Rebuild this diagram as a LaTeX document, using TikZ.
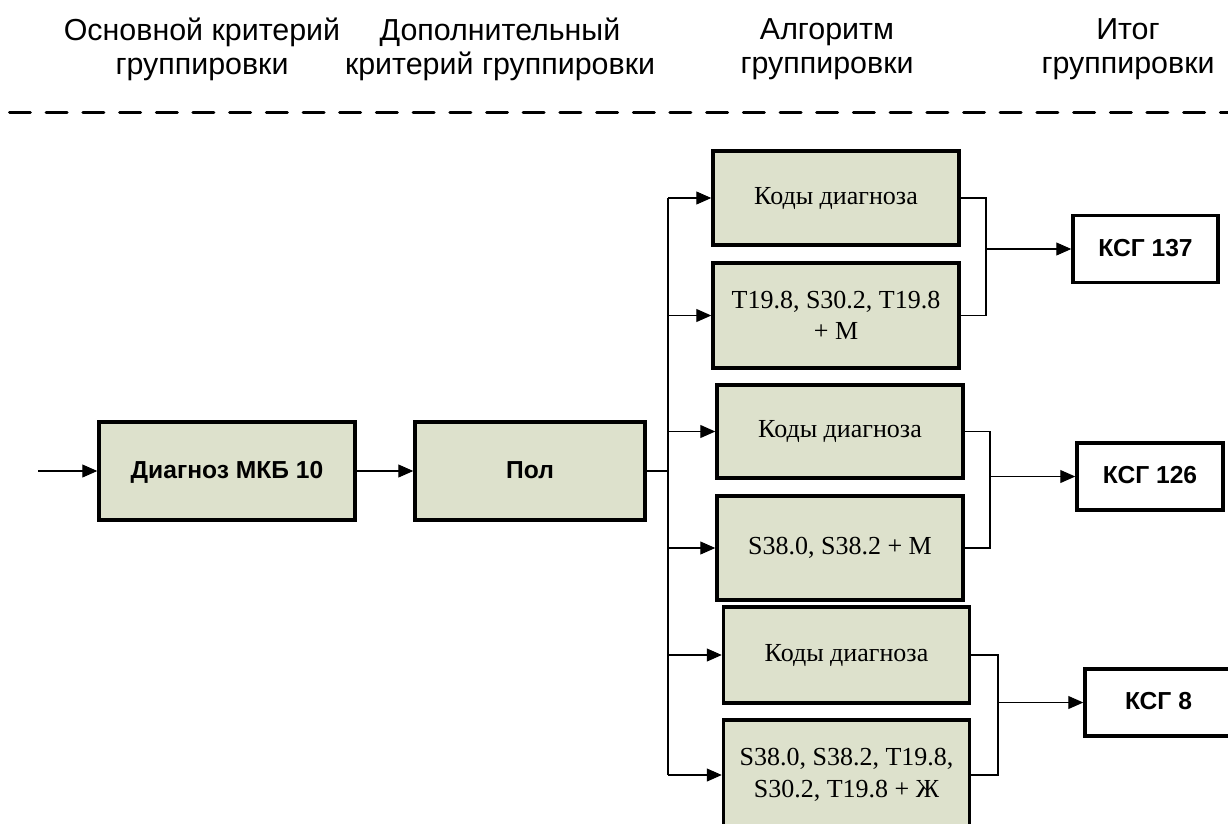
\documentclass[tikz,border=0pt]{standalone}
\usepackage{fontspec}
\setmainfont{Liberation Serif}
\setsansfont{Liberation Sans}
\usetikzlibrary{arrows.meta}
\definecolor{boxfill}{RGB}{221,225,204}

\begin{document}
\begin{tikzpicture}[x=0.02cm, y=-0.02cm,
		head_style/.style={align=center,font=\sffamily\fontsize{17.3}{19.5}\selectfont},
		node_style/.style={rectangle,draw=black,line width=2pt,fill=boxfill,minimum width=4.92cm,align=center,font=\fontsize{14.8}{18}\selectfont},
		node_style1/.style={rectangle,draw=black,line width=2pt,fill=boxfill,minimum height=1.96cm,text depth=0.3ex,font=\sffamily\bfseries\fontsize{14}{16}\selectfont},
		node_style2/.style={rectangle,draw=black,line width=2pt,fill=white,minimum height=1.34cm,text depth=0.3ex,font=\sffamily\bfseries\fontsize{14}{16}\selectfont},
		edge_style/.style={draw=black,line width=0.6pt},
		arrow_style/.style={edge_style,-{Triangle[length=0.3cm,width=0.26cm]}},
		dash_line/.style={line width=0.06cm,dash pattern=on 0.42cm off 0.314cm,line cap=round}]

		\useasboundingbox (0,0) rectangle (1228,823);

		\node[head_style] (h0) at (202,49) {Основной критерий\\группировки};
		\node[head_style] (h1) at (500,49) {Дополнительный\\критерий группировки};
		\node[head_style] (h2) at (827,49) {Алгоритм\\группировки};
		\node[head_style] (h3) at (1128,49) {Итог\\группировки};
		\draw[dash_line] (9.5,112) -- (1228,112);

		\node[node_style1,minimum width=5.12cm] (n0) at (227,471) {Диагноз МКБ 10};
		\node[node_style1,minimum width=4.6cm] (n1) at (530,471) {Пол};
		\node[node_style,minimum height=1.88cm] (n2) at (836,198) {Коды диагноза};
		\node[node_style,minimum height=2.1cm] (n3) at (836,315.5) {T19.8, S30.2, T19.8\\+ М};
		\node[node_style,minimum height=1.86cm] (n4) at (840,431.5) {Коды диагноза};
		\node[node_style,minimum height=2.08cm] (n5) at (840,548) {S38.0, S38.2 + М};
		\node[node_style,minimum height=1.92cm] (n6) at (846.5,655) {Коды диагноза};
		\node[node_style,minimum height=2.2cm] (n7) at (846.5,775) {S38.0, S38.2, T19.8,\\S30.2, T19.8 + Ж};
		\node[node_style2,minimum width=2.9cm] (n8) at (1145.5,249) {КСГ 137};
		\node[node_style2,minimum width=2.92cm] (n9) at (1150,476.5) {КСГ 126};
		\node[node_style2,minimum width=2.94cm] (n10) at (1158.5,702.5) {КСГ 8};

		\coordinate (s0) at (38,471);
		\coordinate (t0) at (668,471);
		\coordinate (c0) at (986,249);
		\coordinate (c1) at (990,476.5);
		\coordinate (c2) at (998,702.5);

		\draw[arrow_style] (s0) -- (n0);
		\draw[arrow_style] (n0) -- (n1);
		\draw[edge_style] (n1) -- (t0);
		\draw[edge_style] (t0 |- n2.west) -- (t0 |- n7.west);
		\foreach \i in {2,...,7}
			\draw[arrow_style] (t0 |- n\i.west) -- (n\i.west);

		\draw[edge_style] (n2.east) -| (c0) |- (n3.east);
		\draw[edge_style] (n4.east) -| (c1) |- (n5.east);
		\draw[edge_style] (n6.east) -| (c2) |- (n7.east);
		\draw[arrow_style] (c0) -- (n8);
		\draw[arrow_style] (c1) -- (n9);
		\draw[arrow_style] (c2) -- (n10);

\end{tikzpicture}
\end{document}
